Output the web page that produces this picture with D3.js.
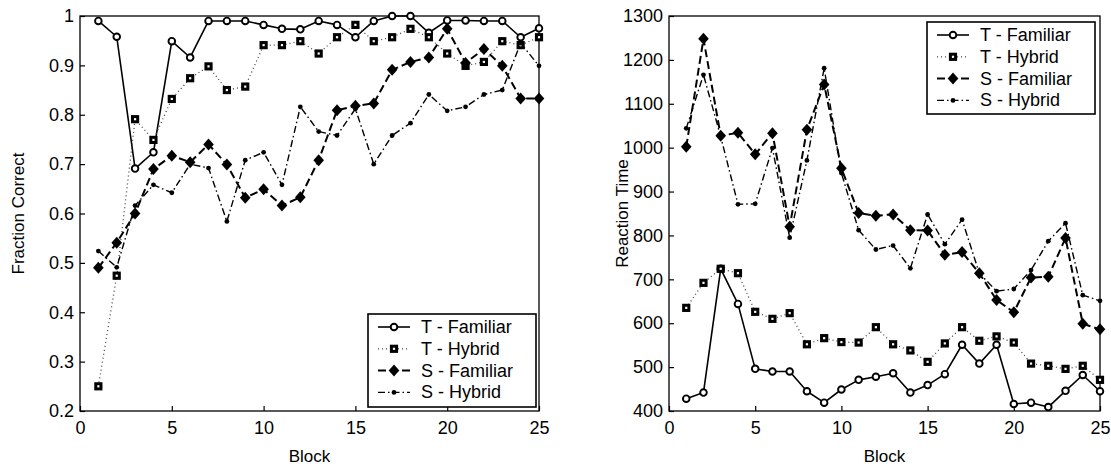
<!DOCTYPE html>
<html>
<head>
<meta charset="utf-8">
<script src="https://cdn.jsdelivr.net/npm/d3@7"></script>
<style>
  body { margin: 0; background: #fff; }
  text { font-family: "Liberation Sans", Arial, sans-serif; fill: #000; }
</style>
</head>
<body>
<div id="chart"></div>
<script>
// Data ------------------------------------------------
const blocks = [1,2,3,4,5,6,7,8,9,10,11,12,13,14,15,16,17,18,19,20,21,22,23,24,25]
const seriesNames = ["T - Familiar", "T - Hybrid", "S - Familiar", "S - Hybrid"]

// fraction correct (left panel)
const accTFamiliar = [0.99,0.958,0.691,0.724,0.949,0.916,0.99,0.99,0.99,0.982,0.974,0.973,0.99,0.982,0.957,0.99,1.0,1.0,0.966,0.991,0.991,0.99,0.99,0.957,0.975]
const accTHybrid = [0.25,0.474,0.791,0.749,0.832,0.874,0.898,0.85,0.857,0.941,0.941,0.949,0.924,0.957,0.982,0.949,0.957,0.974,0.957,0.924,0.899,0.907,0.949,0.941,0.957]
const accSFamiliar = [0.49,0.541,0.6,0.69,0.717,0.704,0.74,0.699,0.632,0.649,0.616,0.633,0.708,0.809,0.818,0.823,0.891,0.907,0.916,0.974,0.905,0.933,0.899,0.833,0.833]
const accSHybrid = [0.524,0.491,0.616,0.658,0.642,0.7,0.692,0.584,0.708,0.724,0.658,0.816,0.766,0.758,0.812,0.7,0.758,0.783,0.841,0.808,0.816,0.841,0.85,0.945,0.899]

// reaction time (right panel)
const rtTFamiliar = [428,442,724,644,496,490,490,445,419,449,471,478,486,442,459,484,551,508,551,416,419,409,446,482,445]
const rtTHybrid = [635,692,724,714,626,610,623,552,566,557,556,591,552,538,512,554,591,560,570,556,508,503,496,503,471]
const rtSFamiliar = [1002,1248,1027,1034,985,1033,820,1041,1144,953,851,845,848,812,811,756,762,714,653,625,704,706,794,599,586]
const rtSHybrid = [1044,1166,1025,871,872,999,795,971,1181,942,812,768,777,725,848,780,836,714,673,678,721,787,828,664,651]

const xTicks = [0,5,10,15,20,25]
const accTicks = [0.2,0.3,0.4,0.5,0.6,0.7,0.8,0.9,1]
const rtTicks = [400,500,600,700,800,900,1000,1100,1200,1300]

// Canvas setup -----------------------------------------
const W = 1111, H = 469
const FONT = "18px"
const svg = d3.select("#chart").append("svg")
  .attr("width", W)
  .attr("height", H)

// line + marker styles per series
const styles = [
  {dash: null, stroke: "#000", width: 1.6, marker: "circle"},
  {dash: "1,3", stroke: "#444", width: 1.3, marker: "square"},
  {dash: "8,4", stroke: "#000", width: 2, marker: "diamond"},
  {dash: "7,3,1.5,3", stroke: "#000", width: 1.4, marker: "dot"}
]

function drawMarker(g, type, x, y) {
  if (type === "circle") {
    g.append("circle").attr("cx", x).attr("cy", y).attr("r", 3.3)
      .attr("fill", "#fff").attr("stroke", "#000").attr("stroke-width", 1.9)
  } else if (type === "square") {
    g.append("rect").attr("x", x - 2.6).attr("y", y - 2.6).attr("width", 5.2).attr("height", 5.2)
      .attr("fill", "#fff").attr("stroke", "#000").attr("stroke-width", 3)
  } else if (type === "diamond") {
    g.append("path").attr("d", `M${x},${y-6}L${x+5.3},${y}L${x},${y+6}L${x-5.3},${y}Z`)
      .attr("fill", "#000")
  } else {
    g.append("circle").attr("cx", x).attr("cy", y).attr("r", 2.4).attr("fill", "#000")
  }
}

function drawPanel(p) {
  const xScale = d3.scaleLinear().domain([0, 25]).range([p.left, p.right])
  const yScale = d3.scaleLinear().domain(p.yDomain).range([p.bottom, p.top])
  const g = svg.append("g")

  // axes (ticks inward, matlab look)
  const xAxis = d3.axisBottom(xScale).tickValues(xTicks).tickSize(-5).tickPadding(10).tickFormat(d3.format("d"))
  const yAxis = d3.axisLeft(yScale).tickValues(p.yTicks).tickSize(-5).tickPadding(6).tickFormat(p.fmt)

  const gx = g.append("g").attr("transform", `translate(0,${p.bottom})`).call(xAxis)
  const gy = g.append("g").attr("transform", `translate(${p.left},0)`).call(yAxis)
  ;[gx, gy].forEach(a => {
    a.select(".domain").remove()
    a.selectAll("line").attr("stroke", "#000").attr("stroke-width", 1.2)
    a.selectAll("text").style("font-size", FONT).attr("fill", "#000")
      .style("font-family", "'Liberation Sans', Arial, sans-serif")
  })

  // box
  g.append("rect")
    .attr("x", p.left).attr("y", p.top)
    .attr("width", p.right - p.left).attr("height", p.bottom - p.top)
    .attr("fill", "none").attr("stroke", "#000").attr("stroke-width", 1.3)

  // labels
  g.append("text")
    .attr("transform", `translate(${p.yLabelX},${(p.top + p.bottom) / 2}) rotate(-90)`)
    .attr("text-anchor", "middle").attr("dominant-baseline", "central")
    .style("font-size", "17px").text(p.yLabel)
  g.append("text")
    .attr("x", (p.left + p.right) / 2).attr("y", 462)
    .attr("text-anchor", "middle").style("font-size", "17px").text("Block")

  // series
  p.series.forEach((vals, i) => {
    const s = styles[i]
    const line = d3.line().x((d, j) => xScale(blocks[j])).y(d => yScale(d))
    g.append("path")
      .attr("d", line(vals))
      .attr("fill", "none")
      .attr("stroke", s.stroke)
      .attr("stroke-width", s.width)
      .attr("stroke-dasharray", s.dash)
      .attr("stroke-linejoin", "round")
    const mg = g.append("g")
    vals.forEach((v, j) => drawMarker(mg, s.marker, xScale(blocks[j]), yScale(v)))
  })

  // legend
  const L = p.legend
  const lg = g.append("g")
  lg.append("rect").attr("x", L.x).attr("y", L.y).attr("width", L.w).attr("height", L.h)
    .attr("fill", "#fff").attr("stroke", "#000").attr("stroke-width", 1.6)
  seriesNames.forEach((name, i) => {
    const cy = L.y + 13 + i * 21.8
    const s = styles[i]
    lg.append("line")
      .attr("x1", L.x + 10).attr("x2", L.x + 42).attr("y1", cy).attr("y2", cy)
      .attr("stroke", s.stroke).attr("stroke-width", s.width)
      .attr("stroke-dasharray", s.dash)
    drawMarker(lg, s.marker, L.x + 26, cy)
    lg.append("text").attr("x", L.x + 53).attr("y", cy).attr("dominant-baseline", "central")
      .style("font-size", FONT).text(name)
  })
}

drawPanel({
  left: 80, right: 539, top: 16, bottom: 411,
  yDomain: [0.2, 1], yTicks: accTicks, fmt: d => d === 1 ? "1" : d3.format(".1f")(d),
  yLabel: "Fraction Correct", yLabelX: 18,
  series: [accTFamiliar, accTHybrid, accSFamiliar, accSHybrid],
  legend: {x: 368, y: 314, w: 168, h: 93}
})

drawPanel({
  left: 669, right: 1100, top: 16, bottom: 411,
  yDomain: [400, 1300], yTicks: rtTicks, fmt: d3.format("d"),
  yLabel: "Reaction Time", yLabelX: 622,
  series: [rtTFamiliar, rtTHybrid, rtSFamiliar, rtSHybrid],
  legend: {x: 927, y: 22, w: 168, h: 92}
})
</script>
</body>
</html>
